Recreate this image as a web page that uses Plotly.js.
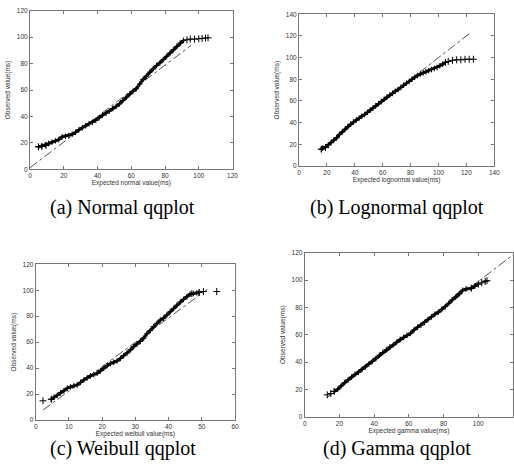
<!DOCTYPE html>
<html>
<head>
<meta charset="utf-8">
<script src="https://cdn.plot.ly/plotly-3.0.1.min.js"></script>
<style>html,body{margin:0;padding:0;background:#fff;}#chart{width:514px;height:471px;}</style>
</head>
<body>
<div id="chart"></div>
<script>
// (a) Normal qqplot: dense body and sparse tail
const normalX = [5,7,9,11,13,15,17,19,21,23,25,27,29,31,33,35,37,39,41,43,45,47,49,51,53,55,57,59,61,63,65,67,69,71,73,75,77,79,81,83,85,87,89,91];
const normalY = [17,17.5,18.5,19.5,20.5,21.5,22.5,24.5,25,25.5,26.5,28,30,31.5,33,34.5,35.5,37,39,41,42.5,44,46,47.5,49.5,52,54.5,57,59,61,64.5,68,70.5,73.5,76,78.5,80.5,83,85.5,88,90.5,93,95.5,97.5];
const normalTailX = [5,7,9.5,93,95,97.5,100,102,104,105.5];
const normalTailY = [17,17.3,18,98,98.5,98.5,98.8,99,99.3,99.5];
const normalRefX = [0, 95.5];
const normalRefY = [1.2, 93.8];

// (b) Lognormal qqplot
const lognormalX = [16,17,19,21,23,25,27,29,31,33,35,37,39,41,43,45,47,49,51,53,55,57,59,61,63,65,67,69,71,73,75,77,79,81,83,85,87,89,91,93,95,97,99,101,103,105];
const lognormalY = [15.5,16.5,17.5,19.5,21.5,24,26,29,31.5,34,36.5,38.5,40.5,42.5,44,46,47.5,49.5,51.5,53.5,55.5,57.5,59.5,61.5,63.5,65.5,67,69,70.5,72.5,74.5,76.5,78,80,82,83.5,85,86,87,88,89,90,91,92.5,94,95.5];
const lognormalTailX = [16,19,105,107,110,113,116,119,122,125];
const lognormalTailY = [15.5,17,95.5,96.5,97.5,98,98,98.5,98.5,98.5];
const lognormalRefX = [15, 123];
const lognormalRefY = [15, 123];

// (c) Weibull qqplot
const weibullX = [4.7,5.5,6.5,7.5,8.5,9.5,10.5,11.5,12.5,13.5,14.5,15.5,16.5,17.5,18.5,19.5,20.5,21.5,22.5,23.5,24.5,25.5,26.5,27.5,28.5,29.5,30.5,31.5,32.5,33.5,34.5,35.5,36.5,37.5,38.5,39.5,40.5,41.5,42.5,43.5,44.5,45.5,46.5,47.5,48.5,49.2];
const weibullY = [16,17.5,19,21,22.5,24.5,25.5,26.5,27,29,31,32.5,34,35,36,38,40,42,43.5,44.5,45.5,47.5,49.5,51.5,54,56.5,58.5,60.5,63,66.5,69,72,74.5,77,78.5,81,83.5,86,88.5,91,93,95,97,97.5,98,98.3];
const weibullTailX = [2.2,4.7,47,49.2,50.5,54.5];
const weibullTailY = [14.8,16,97.3,98.3,99,99];
const weibullRefX = [2.2, 51.7];
const weibullRefY = [7.7, 100.7];

// (d) Gamma qqplot
const gammaX = [17,19,21,23,25,27,29,31,33,35,37,39,41,43,45,47,49,51,53,55,57,59,61,63,65,67,69,71,73,75,77,79,81,83,85,87,89,91,93,96,98,100];
const gammaY = [18.5,20,22.5,25,27,29,31,32.5,34.5,36.5,38.5,40.5,42.5,45,47,49,51,52.5,54.5,56.5,58,59.5,61,63.5,65.5,67,69,71,73,75,76.5,78.5,80.5,83,85.5,87.5,90,92.5,93.5,94,95.5,97];
const gammaTailX = [13,15,17,96,100,102,104,105];
const gammaTailY = [16,17,18.5,94,97,98,99,99.5];
const gammaRefX = [13, 120];
const gammaRefY = [14, 118.5];

const xTitles = ["Expected normal value(ms)", "Expected lognormal value(ms)", "Expected weibull value(ms)", "Expected gamma value(ms)"];
const yTitle = "Observed value(ms)";
const captions = ["(a) Normal qqplot", "(b) Lognormal qqplot", "(c) Weibull qqplot", "(d) Gamma qqplot"];

const sets = [
  {x: normalX, y: normalY, tx: normalTailX, ty: normalTailY, rx: normalRefX, ry: normalRefY},
  {x: lognormalX, y: lognormalY, tx: lognormalTailX, ty: lognormalTailY, rx: lognormalRefX, ry: lognormalRefY},
  {x: weibullX, y: weibullY, tx: weibullTailX, ty: weibullTailY, rx: weibullRefX, ry: weibullRefY},
  {x: gammaX, y: gammaY, tx: gammaTailX, ty: gammaTailY, rx: gammaRefX, ry: gammaRefY}
];

const traces = [];
sets.forEach((s, i) => {
  const sfx = i === 0 ? '' : String(i + 1);
  traces.push({x: s.rx, y: s.ry, xaxis: 'x' + sfx, yaxis: 'y' + sfx, type: 'scatter', mode: 'lines',
    line: {color: '#555', width: 1, dash: 'dashdot'}, hoverinfo: 'skip'});
  traces.push({x: s.x, y: s.y, xaxis: 'x' + sfx, yaxis: 'y' + sfx, type: 'scatter', mode: 'lines+markers',
    line: {color: '#111', width: 3},
    marker: {symbol: 'cross-thin', size: 4, color: '#000', line: {color: '#000', width: 1}}});
  traces.push({x: s.tx, y: s.ty, xaxis: 'x' + sfx, yaxis: 'y' + sfx, type: 'scatter', mode: 'markers',
    marker: {symbol: 'cross-thin', size: 5, color: '#000', line: {color: '#000', width: 1}}});
});

const W = 514, H = 471;
// pixel boxes [left, right, top, bottom]
const boxes = [
  [30, 232.5, 10.7, 169.3],
  [299, 494.3, 14.3, 166],
  [35.7, 235, 264.3, 420],
  [304.7, 513, 252.7, 416.7]
];
const xRanges = [[0,120],[0,140],[0,60],[0,120]];
const yRanges = [[0,120],[0,140],[0,120],[0,120]];
const xDt = [20,20,10,20];

const tickFont = {family: 'Liberation Sans, Arial, sans-serif', size: 6.5, color: '#333'};
const titleFont = {family: 'Liberation Sans, Arial, sans-serif', size: 6.5, color: '#333'};

const layout = {
  width: W, height: H,
  margin: {l: 0, r: 0, t: 0, b: 0},
  paper_bgcolor: '#fff', plot_bgcolor: '#fff',
  showlegend: false,
  annotations: []
};

boxes.forEach((b, i) => {
  const sfx = i === 0 ? '' : String(i + 1);
  const common = {showgrid: false, zeroline: false, showline: true, linecolor: '#777', linewidth: 1,
    mirror: 'ticks', ticks: 'inside', ticklen: 3, tickcolor: '#777', tickfont: tickFont, automargin: false};
  layout['xaxis' + sfx] = Object.assign({}, common, {
    domain: [b[0] / W, b[1] / W], range: xRanges[i], dtick: xDt[i], tick0: 0,
    anchor: 'y' + sfx, title: {text: xTitles[i], font: titleFont, standoff: 2}
  });
  layout['yaxis' + sfx] = Object.assign({}, common, {
    domain: [1 - b[3] / H, 1 - b[2] / H], range: yRanges[i], dtick: 20, tick0: 0,
    anchor: 'x' + sfx, title: {text: yTitle, font: titleFont, standoff: 5}
  });
});

const capPos = [[122.5, 207], [397, 207], [122.5, 448], [396.5, 448]];
captions.forEach((c, i) => {
  layout.annotations.push({text: c, xref: 'paper', yref: 'paper', x: capPos[i][0] / W, y: 1 - capPos[i][1] / H,
    xanchor: 'center', yanchor: 'middle', showarrow: false,
    font: {family: 'Liberation Serif, Times New Roman, serif', size: 20, color: '#000'}});
});

Plotly.newPlot('chart', traces, layout, {displayModeBar: false, staticPlot: true});
</script>
</body>
</html>
